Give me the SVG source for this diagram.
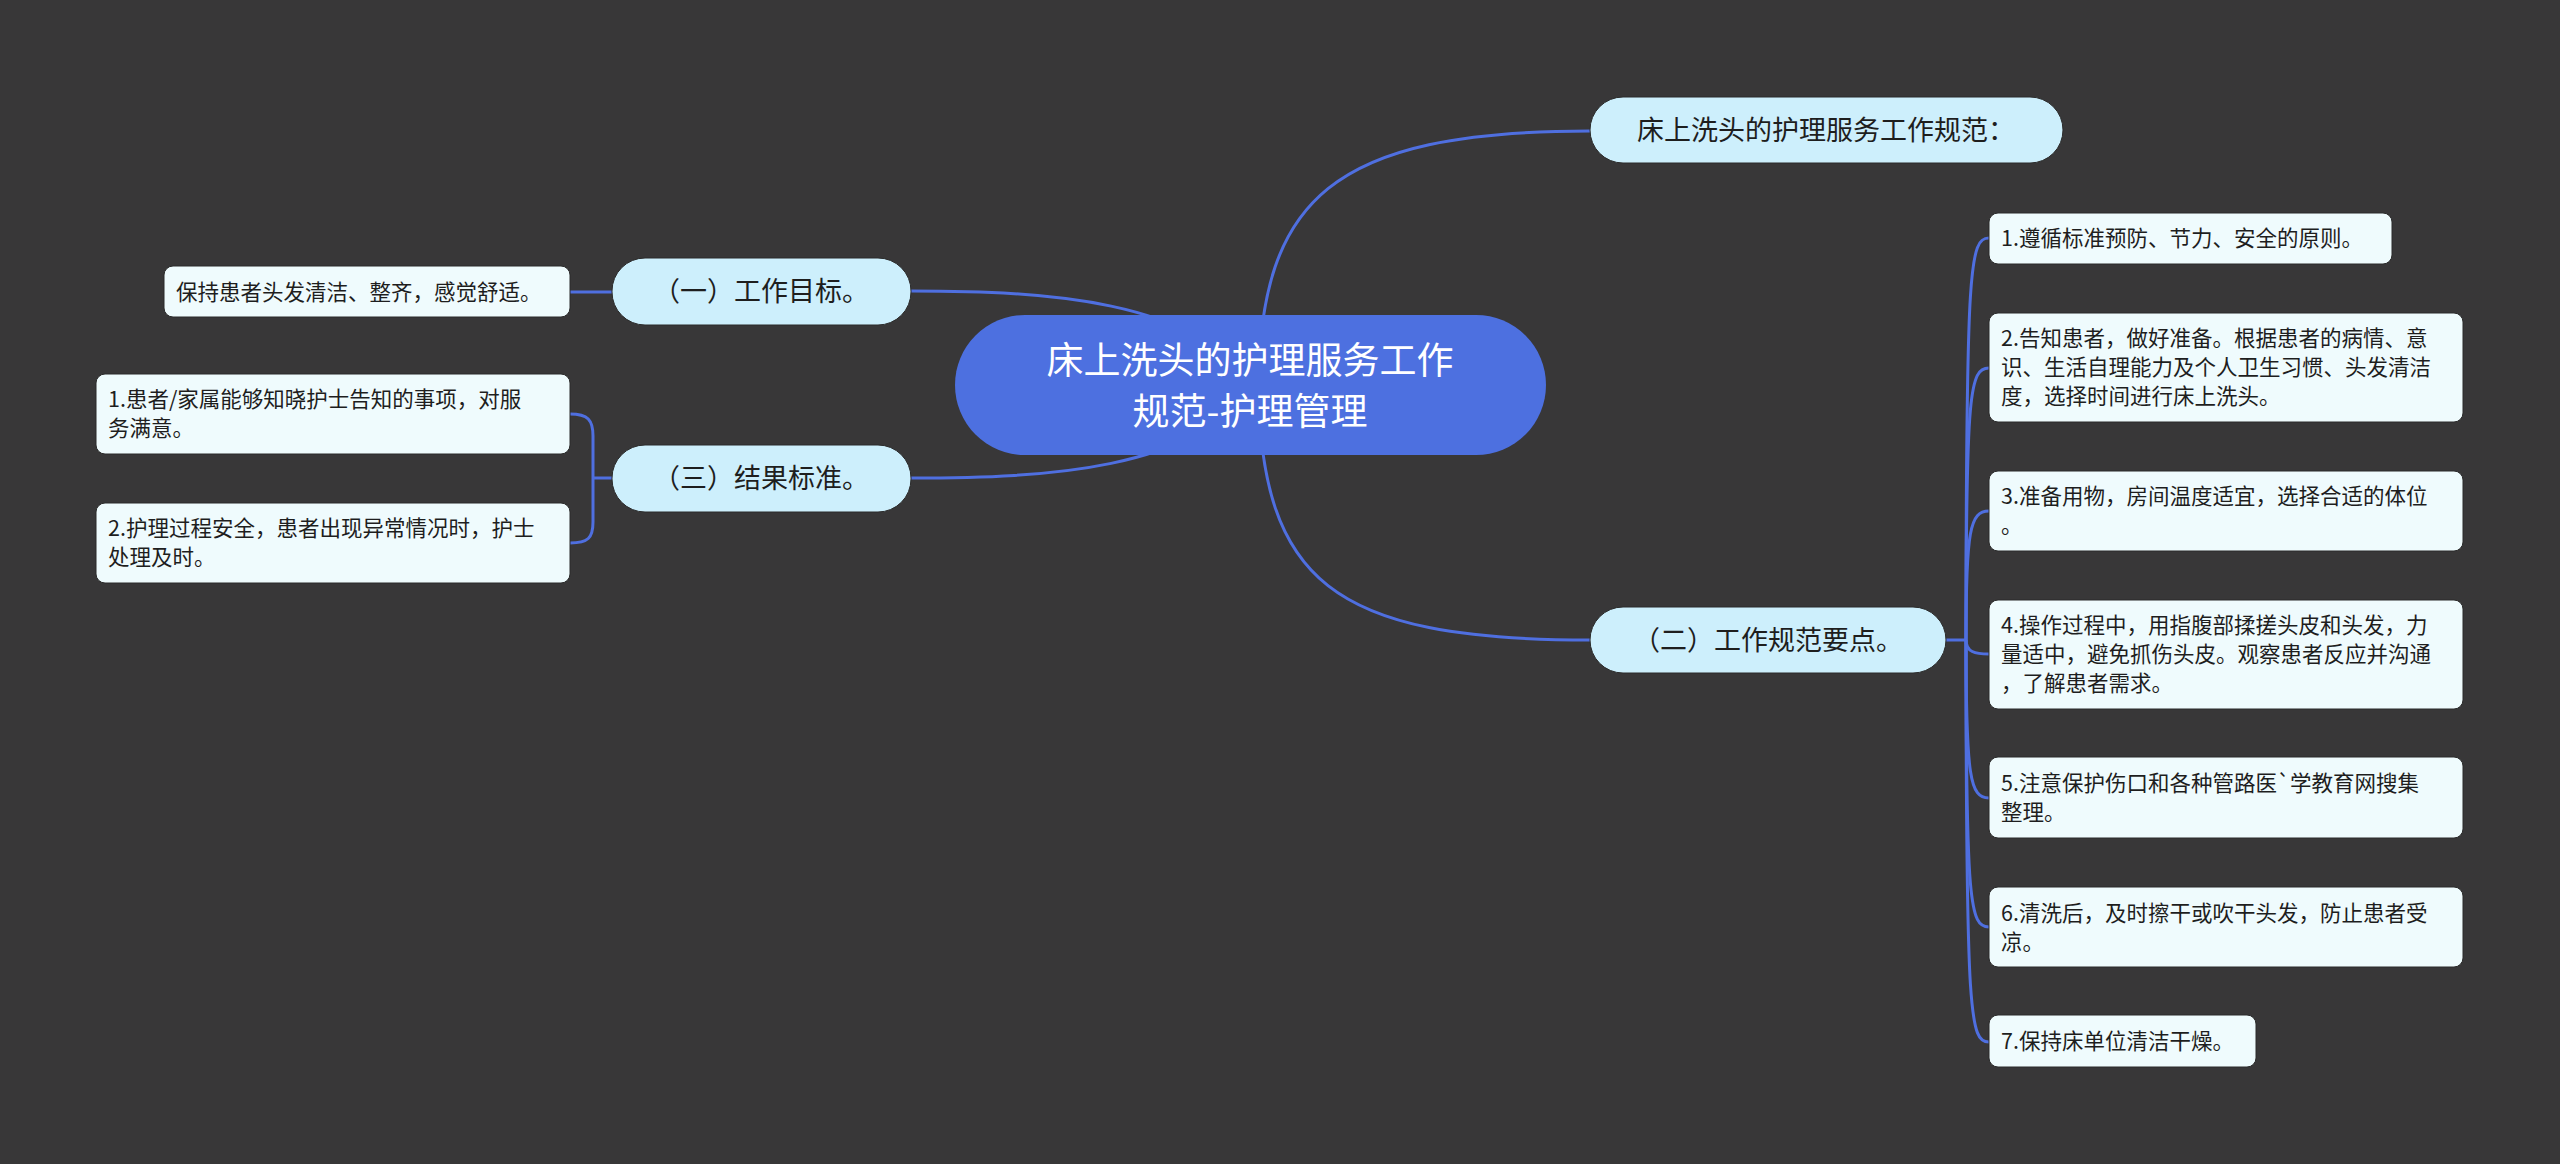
<svg xmlns="http://www.w3.org/2000/svg" width="2560" height="1164" viewBox="0 0 2560 1164">
<style>
.bg{fill:#383738}
.conn path{fill:none;stroke:#4f6fe0;stroke-width:3}
.root{fill:#4d70e0}
.l1{fill:#cdeffc;stroke:#2b2b2b;stroke-width:1}
.leaf{fill:#effbfd;stroke:#2b2b2b;stroke-width:1}
text{font-family:"Microsoft YaHei","Noto Sans CJK SC","Noto Sans",sans-serif}
.tr{fill:#ffffff;font-size:37px}
.t1{fill:#1e1e1e;font-size:27px}
.t2{fill:#1e1e1e;font-size:21.5px}
</style>
<rect class="bg" x="0" y="0" width="2560" height="1164"/>
<g class="conn" id="connectors">
<path d="M911,291 C1050,291 1190,300 1258,385"/>
<path d="M911,478 C1050,478 1190,470 1258,385"/>
<path d="M1258,385 C1262,200 1330,131 1590,131"/>
<path d="M1258,385 C1262,580 1330,640 1590,640"/>
<path d="M570,292 L612,292"/>
<path d="M612,478 L593,478"/>
<path d="M570,414 C588,414 593,420 593,436 L593,522 C593,538 588,543 570,543"/>
<path d="M1946,640 L1966,640"/>
<path d="M1966,640 C1966,262 1970,238 1989,238"/>
<path d="M1966,640 C1966,390 1970,368 1989,368"/>
<path d="M1966,640 C1966,530 1970,511 1989,511"/>
<path d="M1966,640 C1966,652 1975,654 1989,654"/>
<path d="M1966,640 C1966,778 1970,798 1989,798"/>
<path d="M1966,640 C1966,905 1970,927 1989,927"/>
<path d="M1966,640 C1966,1020 1970,1042 1989,1042"/>
</g>
<g id="root">
<rect class="root" x="955" y="315" width="591" height="140" rx="70"/>
<text class="tr" x="1250" y="374" text-anchor="middle">床上洗头的护理服务工作</text>
<text class="tr" x="1250" y="425" text-anchor="middle">规范-护理管理</text>
</g>
<g id="n-top">
<rect class="l1" x="1590" y="97" width="473" height="66" rx="33"/>
<text class="t1" x="1826" y="140" text-anchor="middle">床上洗头的护理服务工作规范：</text>
</g>
<g id="n-1">
<rect class="l1" x="612" y="258" width="299" height="67" rx="33"/>
<text class="t1" x="761" y="301" text-anchor="middle">（一）工作目标。</text>
</g>
<g id="n-3">
<rect class="l1" x="612" y="445" width="299" height="67" rx="33"/>
<text class="t1" x="761" y="488" text-anchor="middle">（三）结果标准。</text>
</g>
<g id="n-2">
<rect class="l1" x="1590" y="607" width="356" height="66" rx="33"/>
<text class="t1" x="1768" y="650" text-anchor="middle">（二）工作规范要点。</text>
</g>
<g id="leaf-1a">
<rect class="leaf" x="164" y="266" width="406" height="51" rx="9"/>
<text class="t2" x="176" y="300">保持患者头发清洁、整齐，感觉舒适。</text>
</g>
<g id="leaf-3a">
<rect class="leaf" x="96" y="374" width="474" height="80" rx="9"/>
<text class="t2" x="108" y="407">1.患者/家属能够知晓护士告知的事项，对服</text>
<text class="t2" x="108" y="436">务满意。</text>
</g>
<g id="leaf-3b">
<rect class="leaf" x="96" y="503" width="474" height="80" rx="9"/>
<text class="t2" x="108" y="536">2.护理过程安全，患者出现异常情况时，护士</text>
<text class="t2" x="108" y="565">处理及时。</text>
</g>
<g id="leaf-2-1">
<rect class="leaf" x="1989" y="213" width="403" height="51" rx="9"/>
<text class="t2" x="2001" y="246">1.遵循标准预防、节力、安全的原则。</text>
</g>
<g id="leaf-2-2">
<rect class="leaf" x="1989" y="313" width="474" height="109" rx="9"/>
<text class="t2" x="2001" y="346">2.告知患者，做好准备。根据患者的病情、意</text>
<text class="t2" x="2001" y="375">识、生活自理能力及个人卫生习惯、头发清洁</text>
<text class="t2" x="2001" y="404">度，选择时间进行床上洗头。</text>
</g>
<g id="leaf-2-3">
<rect class="leaf" x="1989" y="471" width="474" height="80" rx="9"/>
<text class="t2" x="2001" y="504">3.准备用物，房间温度适宜，选择合适的体位</text>
<text class="t2" x="2001" y="533">。</text>
</g>
<g id="leaf-2-4">
<rect class="leaf" x="1989" y="600" width="474" height="109" rx="9"/>
<text class="t2" x="2001" y="633">4.操作过程中，用指腹部揉搓头皮和头发，力</text>
<text class="t2" x="2001" y="662">量适中，避免抓伤头皮。观察患者反应并沟通</text>
<text class="t2" x="2001" y="691">，了解患者需求。</text>
</g>
<g id="leaf-2-5">
<rect class="leaf" x="1989" y="757" width="474" height="81" rx="9"/>
<text class="t2" x="2001" y="791">5.注意保护伤口和各种管路医`学教育网搜集</text>
<text class="t2" x="2001" y="820">整理。</text>
</g>
<g id="leaf-2-6">
<rect class="leaf" x="1989" y="887" width="474" height="80" rx="9"/>
<text class="t2" x="2001" y="921">6.清洗后，及时擦干或吹干头发，防止患者受</text>
<text class="t2" x="2001" y="950">凉。</text>
</g>
<g id="leaf-2-7">
<rect class="leaf" x="1989" y="1015" width="267" height="52" rx="9"/>
<text class="t2" x="2001" y="1049">7.保持床单位清洁干燥。</text>
</g>
</svg>
